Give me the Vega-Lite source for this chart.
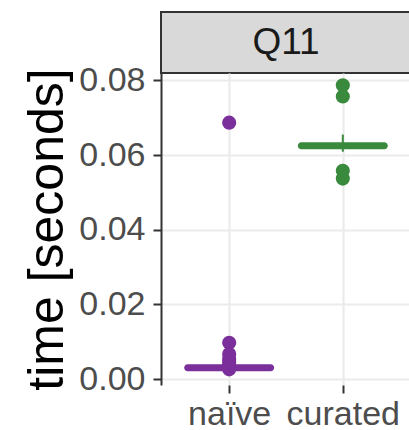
{
  "$schema": "https://vega.github.io/schema/vega-lite/v6.json",
  "padding": {"left": 22, "top": 11, "right": 0, "bottom": 0},
  "background": "white",
  "datasets": {
    "points": [
      {"method": "naïve", "time": 0.0687},
      {"method": "naïve", "time": 0.0097},
      {"method": "naïve", "time": 0.0067},
      {"method": "naïve", "time": 0.0054},
      {"method": "naïve", "time": 0.0045},
      {"method": "naïve", "time": 0.0036},
      {"method": "naïve", "time": 0.0030},
      {"method": "naïve", "time": 0.0026},
      {"method": "curated", "time": 0.0787},
      {"method": "curated", "time": 0.0757},
      {"method": "curated", "time": 0.0558},
      {"method": "curated", "time": 0.0537}
    ],
    "summary": [
      {"method": "naïve", "center": 0.0030, "lo": 0.0027, "hi": 0.0034},
      {"method": "curated", "center": 0.0625, "lo": 0.0609, "hi": 0.0655}
    ],
    "strip": [{"panel": "Q11"}]
  },
  "config": {
    "font": "Liberation Sans",
    "view": {"stroke": null},
    "axis": {
      "labelFont": "Liberation Sans",
      "titleFont": "Liberation Sans",
      "labelFontSize": 34,
      "labelColor": "#4d4d4d",
      "tickColor": "#333333",
      "tickWidth": 2,
      "tickSize": 8,
      "gridColor": "#ebebeb"
    }
  },
  "bounds": "flush",
  "vconcat": [
    {
      "width": 250,
      "height": 61,
      "data": {"name": "strip"},
      "view": {"fill": "#d9d9d9", "stroke": "#333333", "strokeWidth": 2},
      "mark": {"type": "text", "fontSize": 37, "color": "#1a1a1a", "font": "Liberation Sans"},
      "encoding": {"text": {"field": "panel", "type": "nominal"}}
    },
    {
      "width": 250,
      "height": 312,
      "encoding": {
        "x": {
          "field": "method",
          "type": "nominal",
          "scale": {"type": "point", "domain": ["naïve", "curated"], "padding": 0.6},
          "axis": {
            "title": null,
            "labelAngle": 0,
            "domain": false,
            "grid": true,
            "gridWidth": 2.2,
            "labelPadding": 4
          }
        },
        "color": {
          "field": "method",
          "type": "nominal",
          "scale": {"domain": ["naïve", "curated"], "range": ["#7b2f9b", "#3a8a3e"]},
          "legend": null
        }
      },
      "layer": [
        {
          "data": {"name": "points"},
          "mark": {"type": "circle", "size": 200, "opacity": 1},
          "encoding": {
            "y": {
              "field": "time",
              "type": "quantitative",
              "scale": {"domain": [-0.0016, 0.082], "nice": false, "zero": false},
              "axis": {
                "title": "time [seconds]",
                "titleFontSize": 50,
                "titleFontWeight": "normal",
                "titleColor": "#000000",
                "titlePadding": 6,
                "values": [0, 0.01, 0.02, 0.03, 0.04, 0.05, 0.06, 0.07, 0.08],
                "format": ".2f",
                "labelExpr": "round(datum.value*100) % 2 === 1 ? '' : datum.label",
                "tickOpacity": {"condition": {"test": "round(datum.value*100) % 2 === 1", "value": 0}, "value": 1},
                "gridWidth": {"condition": {"test": "round(datum.value*100) % 2 === 1", "value": 1.4}, "value": 2.2},
                "domain": true,
                "domainColor": "#333333",
                "domainWidth": 2,
                "labelPadding": 8
              }
            }
          }
        },
        {
          "data": {"name": "summary"},
          "mark": {"type": "tick", "size": 90, "thickness": 7, "cornerRadius": 3.5, "opacity": 1},
          "encoding": {
            "y": {"field": "center", "type": "quantitative"}
          }
        },
        {
          "data": {"name": "summary"},
          "mark": {"type": "rule", "strokeWidth": 2},
          "encoding": {
            "y": {"field": "lo", "type": "quantitative"},
            "y2": {"field": "hi"}
          }
        }
      ]
    }
  ],
  "spacing": 0
}
